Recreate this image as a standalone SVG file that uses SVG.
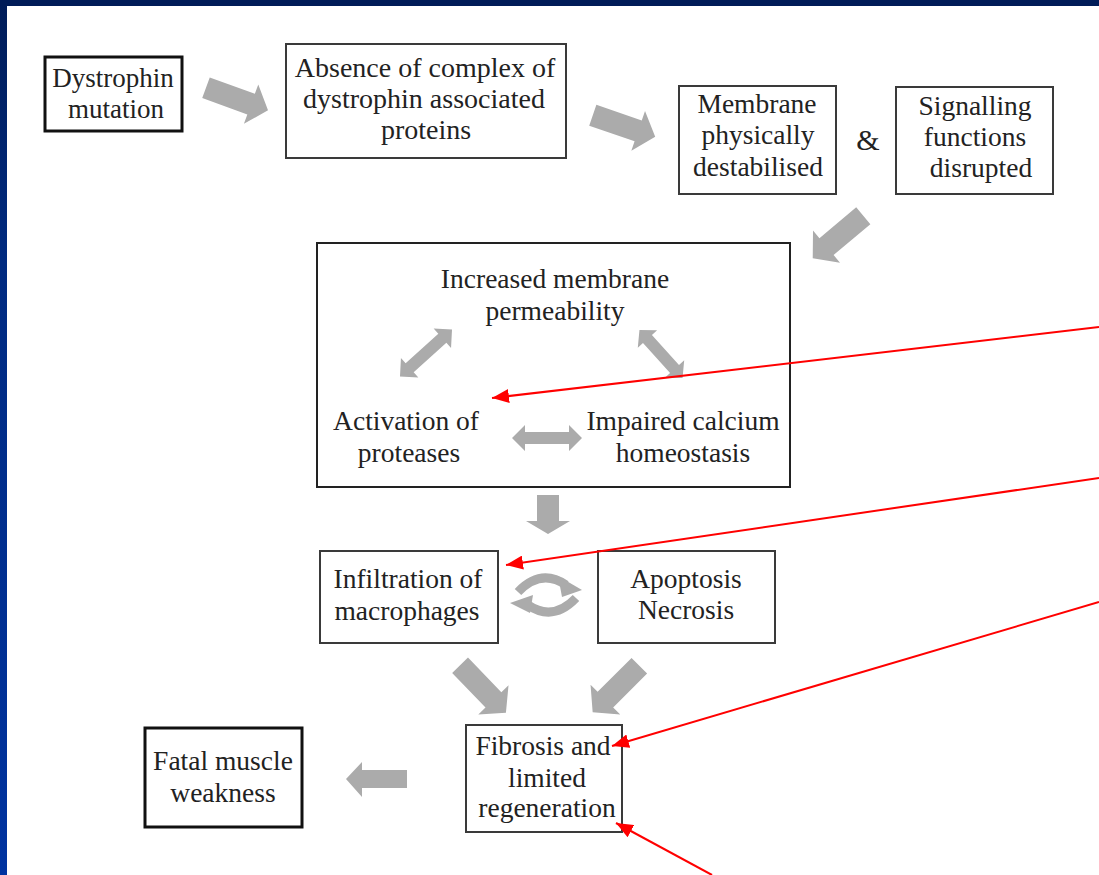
<svg xmlns="http://www.w3.org/2000/svg" width="1099" height="875" viewBox="0 0 1099 875">
<defs>
<linearGradient id="side" x1="0" y1="0" x2="0" y2="1">
<stop offset="0" stop-color="#001c58"/>
<stop offset="0.3" stop-color="#002a80"/>
<stop offset="1" stop-color="#0033a0"/>
</linearGradient>
<path id="blk" d="M-33,-11 L15,-11 L15,-21 L33,0 L15,21 L15,11 L-33,11 Z"/>
<path id="dbl" d="M-35,0 L-22,-13 L-22,-6 L22,-6 L22,-13 L35,0 L22,13 L22,6 L-22,6 L-22,13 Z"/>
<marker id="redhead" markerUnits="userSpaceOnUse" markerWidth="18" markerHeight="14" refX="17" refY="7" orient="auto">
<path d="M0,0 L17,7 L0,14 Z" fill="#ff0000"/>
</marker>
</defs>
<style>
.t{font-family:"Liberation Serif","Times New Roman",serif;font-size:27.5px;fill:#222222;text-anchor:middle}
.box{fill:#ffffff;stroke:#3a3a3a;stroke-width:2}
.thick{fill:#ffffff;stroke:#111111;stroke-width:3}
.ga{fill:#ababab}
.red{stroke:#ff0000;stroke-width:2;fill:none;marker-end:url(#redhead)}
</style>
<rect x="0" y="0" width="1099" height="875" fill="#ffffff"/>
<rect x="0" y="0" width="7" height="875" fill="url(#side)"/>
<rect x="0" y="0" width="1099" height="6" fill="#001c58"/>

<g id="n-dystrophin">
<rect class="thick" x="45" y="57" width="137" height="74"/>
<text class="t" x="113" y="87" style="font-size:27px">Dystrophin</text>
<text class="t" x="116" y="118" style="font-size:27px">mutation</text>
</g>
<g id="n-absence">
<rect class="box" x="286" y="44" width="280" height="114"/>
<text class="t" x="425" y="77" style="font-size:28px">Absence of complex of</text>
<text class="t" x="424" y="108" style="font-size:28px">dystrophin associated</text>
<text class="t" x="426" y="139" style="font-size:28px">proteins</text>
</g>
<g id="n-membrane">
<rect class="box" x="679" y="86" width="157" height="108"/>
<text class="t" x="757" y="113">Membrane</text>
<text class="t" x="758" y="144">physically</text>
<text class="t" x="758" y="176">destabilised</text>
</g>
<g id="n-amp">
<text class="t" x="868" y="150" style="font-size:30px">&amp;</text>
</g>
<g id="n-signalling">
<rect class="box" x="896" y="87" width="157" height="107"/>
<text class="t" x="975" y="115">Signalling</text>
<text class="t" x="975" y="146">functions</text>
<text class="t" x="981" y="177">disrupted</text>
</g>
<g id="n-bigbox">
<rect class="box" x="317" y="243" width="473" height="244" style="stroke:#222"/>
</g>
<g id="n-permeability">
<text class="t" x="555" y="288">Increased membrane</text>
<text class="t" x="555" y="320">permeability</text>
</g>
<g id="n-proteases">
<text class="t" x="406" y="430">Activation of</text>
<text class="t" x="409" y="462">proteases</text>
</g>
<g id="n-calcium">
<text class="t" x="683" y="430">Impaired calcium</text>
<text class="t" x="683" y="462">homeostasis</text>
</g>
<g id="n-infiltration">
<rect class="box" x="320" y="551" width="178" height="92"/>
<text class="t" x="408" y="588">Infiltration of</text>
<text class="t" x="407" y="620">macrophages</text>
</g>
<g id="n-apoptosis">
<rect class="box" x="598" y="551" width="177" height="92"/>
<text class="t" x="686" y="588">Apoptosis</text>
<text class="t" x="686" y="619">Necrosis</text>
</g>
<g id="n-fibrosis">
<rect class="box" x="466" y="725" width="156" height="107"/>
<text class="t" x="543" y="755">Fibrosis and</text>
<text class="t" x="547" y="787">limited</text>
<text class="t" x="547" y="817">regeneration</text>
</g>
<g id="n-fatal">
<rect class="thick" x="145" y="728" width="157" height="99"/>
<text class="t" x="223" y="770">Fatal muscle</text>
<text class="t" x="223" y="802">weakness</text>
</g>

<g id="connectors">
<use href="#blk" class="ga" transform="translate(237,99) rotate(20)"/>
<use href="#blk" class="ga" transform="translate(624,126) rotate(19)"/>
<use href="#blk" class="ga" transform="translate(838,237) rotate(140)"/>
<use href="#dbl" class="ga" transform="translate(426,353) rotate(-42)"/>
<use href="#dbl" class="ga" transform="translate(661,354) rotate(48) scale(0.92,1)"/>
<use href="#dbl" class="ga" transform="translate(547,438)"/>
<path class="ga" d="M537,495 L559,495 L559,521 L570,521 L548,534 L526,521 L537,521 Z"/>
<path d="M518,592 Q541,568 566,585" fill="none" stroke="#ababab" stroke-width="9"/>
<path class="ga" d="M558,576 L582,590 L562,597 Z"/>
<path d="M576,598 Q553,622 528,605" fill="none" stroke="#ababab" stroke-width="9"/>
<path class="ga" d="M533,595 L510,603 L530,613 Z"/>
<use href="#blk" class="ga" transform="translate(483,689) rotate(46)"/>
<use href="#blk" class="ga" transform="translate(616,689) rotate(135)"/>
<path class="ga" d="M407,770 L362,770 L362,762 L346,779 L362,797 L362,788 L407,788 Z"/>
<line class="red" x1="1099" y1="327" x2="492" y2="398"/>
<line class="red" x1="1099" y1="478" x2="506" y2="565"/>
<line class="red" x1="1099" y1="602" x2="612" y2="746"/>
<line class="red" x1="712" y1="875" x2="616" y2="823"/>
</g>
</svg>
